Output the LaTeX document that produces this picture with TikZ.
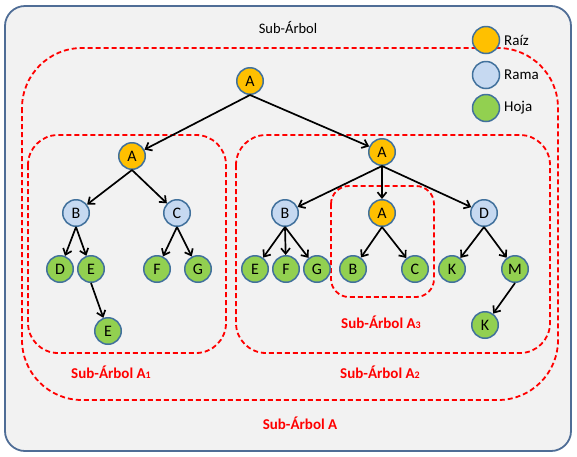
\documentclass[tikz,border=0pt]{standalone}
\usepackage{fontspec}
\setmainfont{Carlito}
\usepackage{tikz}
\usetikzlibrary{arrows.meta}
\definecolor{raiz}{HTML}{FFC000}
\definecolor{rama}{HTML}{C6D9F1}
\definecolor{hoja}{HTML}{92D050}
\definecolor{borde}{HTML}{41719C}
\definecolor{marco}{HTML}{4F6D96}
\definecolor{fondo}{HTML}{F2F2F2}
\definecolor{rojo}{HTML}{FF0000}
\newcommand{\sub}[1]{{\fontsize{10}{10}\selectfont #1}}

\begin{document}
\begin{tikzpicture}[x=1pt, y=-1pt,
	nodo/.style={circle, draw=borde, line width=1.5pt, minimum size=26.5pt, inner sep=0pt, font=\fontsize{16}{16}\selectfont},
	nraiz/.style={nodo, fill=raiz},
	nrama/.style={nodo, fill=rama},
	nhoja/.style={nodo, fill=hoja},
	rama/.style={-{Straight Barb[length=5.5pt,width=9pt]}, line width=1.7pt, black},
	caja/.style={draw=rojo, line width=1.8pt, dash pattern=on 5pt off 3pt},
	etiq/.style={text=rojo, font=\fontsize{15}{15}\selectfont\bfseries},
	leyenda/.style={anchor=west, inner sep=0pt, font=\fontsize{15}{15}\selectfont}]
	\useasboundingbox (0,0) rectangle (577,456);
	% marco
	\filldraw[fill=fondo, draw=marco, line width=1.8pt, rounded corners=20pt] (5,6) rectangle (571,451);
	\node[font=\fontsize{14.5}{14.5}\selectfont] (titulo) at (288,27) {Sub-Árbol};
	% cajas
	\draw[caja, rounded corners=60pt] (22,48) rectangle (558,400);
	\draw[caja, rounded corners=30pt] (28,135) rectangle (226,353);
	\draw[caja, rounded corners=30pt] (236,135) rectangle (550,353);
	\draw[caja, rounded corners=18pt] (331,186) rectangle (434,297);
	\node[etiq] (lA) at (300,423) {Sub-Árbol A};
	\node[etiq] (lA1) at (111,372) {Sub-Árbol A\sub{1}};
	\node[etiq] (lA2) at (380,372) {Sub-Árbol A\sub{2}};
	\node[etiq] (lA3) at (381,322) {Sub-Árbol A\sub{3}};
	% leyenda
	\node[nraiz, minimum size=27pt] (cr) at (486,40) {};
	\node[nrama, minimum size=27pt] (cm) at (486,75) {};
	\node[nhoja, minimum size=27pt] (ch) at (486,108) {};
	\node[leyenda] at (504,40) {Raíz};
	\node[leyenda] at (504,75) {Rama};
	\node[leyenda] at (504,108) {Hoja};
	% arbol
	\node[nraiz] (r) at (250,81) {A};
	% sub-arbol A1
	\node[nraiz] (a) at (132,156) {A};
	\node[nrama] (ab) at (76,213) {B};
	\node[nrama] (ac) at (177,213) {C};
	\node[nhoja] (abd) at (60,269) {D};
	\node[nhoja] (abe) at (91,269) {E};
	\node[nhoja] (acf) at (157,269) {F};
	\node[nhoja] (acg) at (198,269) {G};
	\node[nhoja] (abee) at (108,331) {E};
	% sub-arbol A2
	\node[nraiz] (b) at (382,152) {A};
	\node[nrama] (bb) at (285,213) {B};
	\node[nraiz] (ba) at (382,213) {A};
	\node[nrama] (bd) at (484,213) {D};
	\node[nhoja] (bbe) at (255,269) {E};
	\node[nhoja] (bbf) at (286,269) {F};
	\node[nhoja] (bbg) at (317,269) {G};
	\node[nhoja] (bab) at (353,269) {B};
	\node[nhoja] (bac) at (415,269) {C};
	\node[nhoja] (bdk) at (452,269) {K};
	\node[nhoja] (bdm) at (515,269) {M};
	\node[nhoja] (bdmk) at (485,325) {K};
	% conexiones
	\draw[rama] (r.south) -- (a);
	\draw[rama] (r.south) -- (b);
	\draw[rama] (a.south) -- (ab);
	\draw[rama] (a.south) -- (ac);
	\draw[rama] (ab.south) -- (abd);
	\draw[rama] (ab.south) -- (abe);
	\draw[rama] (ac.south) -- (acf);
	\draw[rama] (ac.south) -- (acg);
	\draw[rama] (abe.south) -- (abee);
	\draw[rama] (b.south) -- (bb);
	\draw[rama] (b.south) -- (ba);
	\draw[rama] (b.south) -- (bd);
	\draw[rama] (bb.south) -- (bbe);
	\draw[rama] (bb.south) -- (bbf);
	\draw[rama] (bb.south) -- (bbg);
	\draw[rama] (ba.south) -- (bab);
	\draw[rama] (ba.south) -- (bac);
	\draw[rama] (bd.south) -- (bdk);
	\draw[rama] (bd.south) -- (bdm);
	\draw[rama] (bdm.south) -- (bdmk);
\end{tikzpicture}
\end{document}
